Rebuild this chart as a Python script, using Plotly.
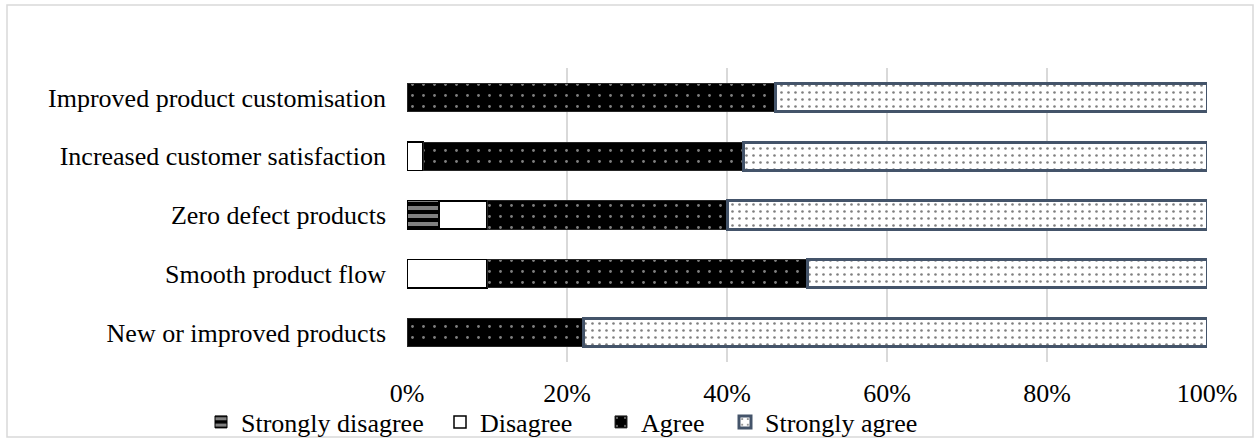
import plotly.graph_objects as go

# Survey items, listed top to bottom
categories = [
    "Improved product customisation",
    "Increased customer satisfaction",
    "Zero defect products",
    "Smooth product flow",
    "New or improved products",
]

# Share of responses (%) per item, same order as categories
strongly_disagree = [0, 0, 4, 0, 0]
disagree = [0, 2, 6, 10, 0]
agree = [46, 40, 30, 40, 22]
strongly_agree = [54, 58, 60, 50, 78]

# Left edge (px) of each legend entry along the bottom row
legend_left_px = [201, 440, 601, 725]

series = [
    ("Strongly disagree", strongly_disagree,
     dict(color="black", line=dict(color="black", width=1),
          pattern=dict(shape="-", fgcolor="white", bgcolor="black", size=8, solidity=0.5))),
    ("Disagree", disagree,
     dict(color="white", line=dict(color="black", width=1.5))),
    ("Agree", agree,
     dict(color="black", line=dict(color="#262626", width=1),
          pattern=dict(shape=".", fgcolor="white", bgcolor="black", size=11, solidity=0.05))),
    ("Strongly agree", strongly_agree,
     dict(color="white", line=dict(color="#44546A", width=3),
          pattern=dict(shape=".", fgcolor="black", bgcolor="white", size=7, solidity=0.11))),
]

PLOT_L, PLOT_R, PLOT_T, PLOT_B = 407, 1207, 68, 362
pw, ph = PLOT_R - PLOT_L, PLOT_B - PLOT_T

fig = go.Figure()
legend_cfg = {}
for i, (name, values, marker) in enumerate(series):
    key = "legend" if i == 0 else f"legend{i + 1}"
    fig.add_trace(go.Bar(
        y=categories, x=values, name=name, orientation="h",
        marker=marker, legend=key, showlegend=True,
    ))
    legend_cfg[key] = dict(
        orientation="h", x=(legend_left_px[i] - PLOT_L) / pw, xanchor="left",
        y=(PLOT_B - 422) / ph, yanchor="middle",
        bgcolor="rgba(0,0,0,0)", font=dict(size=26),
    )

fig.update_layout(
    width=1255, height=440, showlegend=True,
    barmode="stack", bargap=0.52,
    plot_bgcolor="white", paper_bgcolor="white",
    font=dict(family="Liberation Serif, Times New Roman, serif", size=26, color="black"),
    margin=dict(l=PLOT_L, r=1255 - PLOT_R, t=PLOT_T, b=440 - PLOT_B, autoexpand=False),
    xaxis=dict(
        range=[0, 100], tickvals=[0, 20, 40, 60, 80, 100],
        ticktext=["0%", "20%", "40%", "60%", "80%", "100%"],
        showgrid=True, gridcolor="#d9d9d9", gridwidth=1.5,
        zeroline=False, showline=False, ticks="", ticklabelstandoff=13,
        automargin=False,
    ),
    yaxis=dict(
        categoryorder="array", categoryarray=categories[::-1],
        showgrid=False, showline=False, ticks="", ticklabelstandoff=20,
        automargin=False,
    ),
    shapes=[dict(
        type="rect", xref="paper", yref="paper",
        x0=(7 - PLOT_L) / pw, x1=(1253 - PLOT_L) / pw,
        y0=(PLOT_B - 437) / ph, y1=(PLOT_B - 5) / ph,
        line=dict(color="#d9d9d9", width=1.5), fillcolor="rgba(0,0,0,0)", layer="below",
    )],
    **legend_cfg,
)

fig.write_html("out.html")
